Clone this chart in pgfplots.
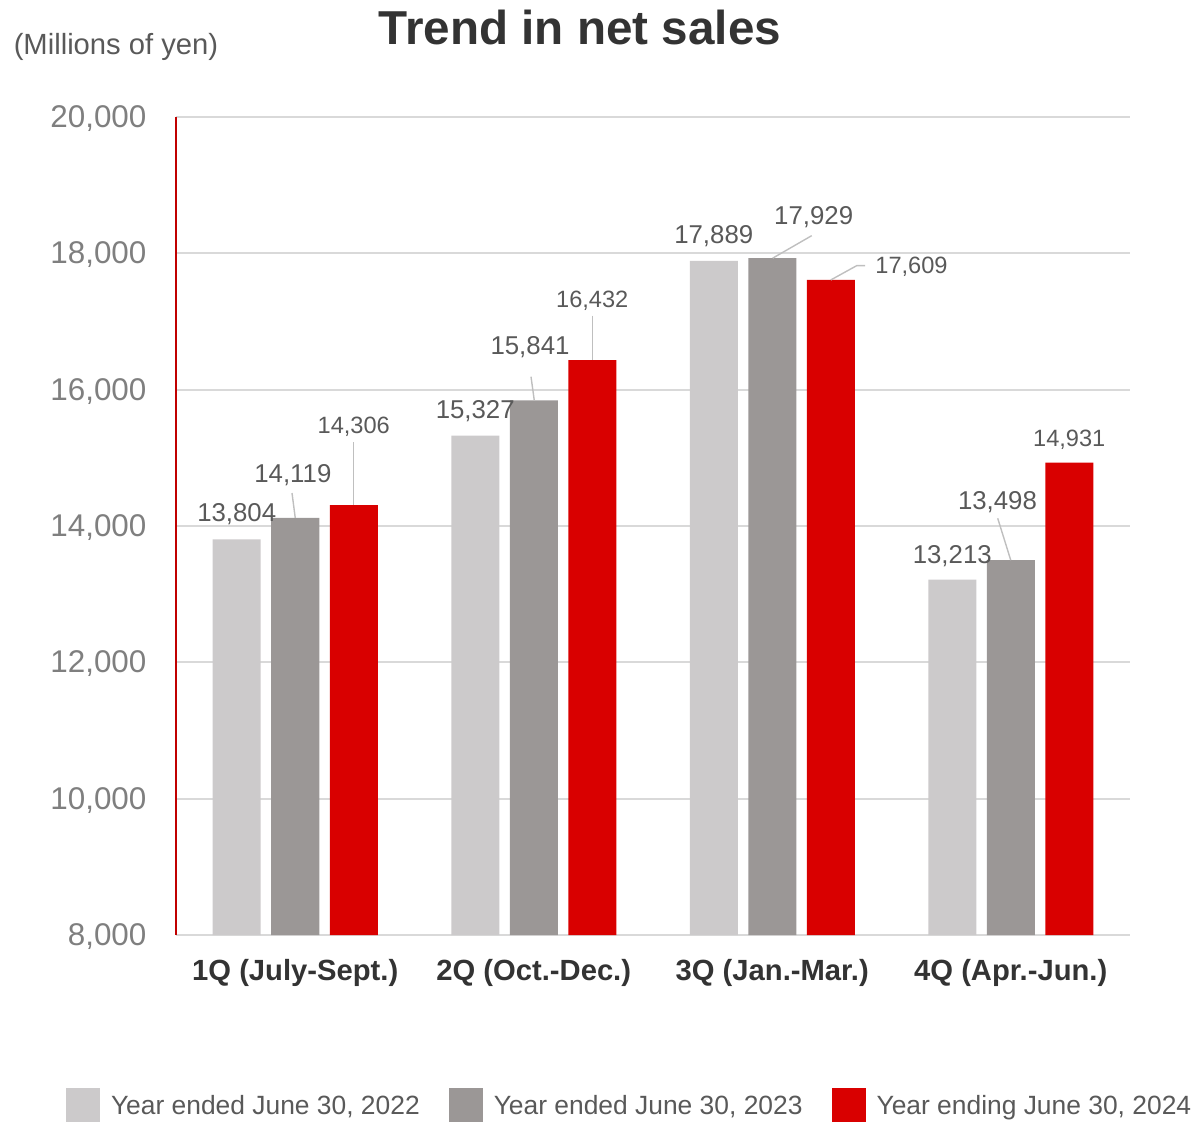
\documentclass[border=0pt]{standalone}
\usepackage{pgfplots}
\pgfplotsset{compat=1.18}
\usepackage{fontspec}
\setmainfont{Liberation Sans}
\definecolor{cA}{HTML}{CCCACB}
\definecolor{cB}{HTML}{9B9796}
\definecolor{cC}{HTML}{D90000}
\definecolor{axred}{HTML}{C00000}
\definecolor{gridc}{HTML}{D9D9D9}
\definecolor{ticktext}{HTML}{7F7F7F}
\definecolor{lbltext}{HTML}{595959}
\definecolor{leadc}{HTML}{BFBFBF}
\definecolor{titletext}{HTML}{333333}
\pgfplotsset{sqlegend/.style={legend image code/.code={\fill[##1] (0pt,-3.5pt) rectangle (17pt,13.5pt);}}}
\tikzset{
  lbl/.style={font=\fontsize{12.9}{15}\selectfont, text=lbltext, inner sep=0pt, anchor=base},
  lblr/.style={font=\fontsize{11.8}{14}\selectfont, text=lbltext, inner sep=0pt, anchor=base},
  leader/.style={draw=leadc, line width=0.7pt},
}
\begin{document}
\begin{tikzpicture}
\useasboundingbox (-88pt,-93.5pt) rectangle (510.5pt,467.5pt);
\begin{axis}[
  at={(0,0)}, anchor=south west,
  scale only axis, width=477pt, height=409pt,
  xmin=-0.5, xmax=3.5, ymin=8000, ymax=20000,
  ybar=5.25pt, bar width=24pt,
  xtick={0,1,2,3},
  xticklabels={1Q (July-Sept.),2Q (Oct.-Dec.),3Q (Jan.-Mar.),4Q (Apr.-Jun.)},
  ytick={8000,10000,12000,14000,16000,18000,20000},
  scaled y ticks=false,
  ymajorgrids, major grid style={draw=gridc, line width=0.9pt},
  axis x line=bottom, axis y line=left, axis line style={-},
  x axis line style={draw=gridc, line width=0.9pt},
  y axis line style={draw=axred, line width=1pt},
  major tick length=0pt, tick style={draw=none},
  /pgf/number format/.cd, fixed, precision=0, 1000 sep={,}, assume math mode=true, /pgfplots/.cd,
  yticklabel style={font=\fontsize{15.7}{18}\selectfont, text=ticktext, anchor=base east, inner sep=0pt, xshift=-14.6pt, yshift=-5.3pt},
  xticklabel style={font=\bfseries\fontsize{14.6}{17}\selectfont, text=titletext, anchor=base, inner sep=0pt, yshift=-22.75pt},
  legend columns=-1, legend cell align=left,
  legend style={at={(axis description cs:-0.1153,-0.2078)}, anchor=west, draw=none, fill=none,
    inner sep=0pt, outer sep=0pt, nodes={inner sep=0pt},
    font=\fontsize{13.2}{15}\selectfont, text=lbltext,
    cells={anchor=base west},
    /tikz/every odd column/.append style={column sep=5.5pt},
    /tikz/every even column/.append style={column sep=14.5pt}},
]
\addplot[fill=cA, draw=none, sqlegend] coordinates {(0,13804) (1,15327) (2,17889) (3,13213)};
\addplot[fill=cB, draw=none, sqlegend] coordinates {(0,14119) (1,15841) (2,17929) (3,13498)};
\addplot[fill=cC, draw=none, sqlegend] coordinates {(0,14306) (1,16432) (2,17609) (3,14931)};
\legend{Year ended June 30{,} 2022,Year ended June 30{,} 2023,Year ending June 30{,} 2024}
\draw[leader] (axis cs:-0.0136,14484) -- (axis cs:0,14119);
\draw[leader] (axis cs:0.2453,15228) -- (axis cs:0.2453,14306);
\draw[leader] (axis cs:0.9885,16190) -- (axis cs:1.0023,15841);
\draw[leader] (axis cs:1.2453,17085) -- (axis cs:1.2453,16432);
\draw[leader] (axis cs:2.1654,18259) -- (axis cs:2.0019,17929);
\draw[leader] (axis cs:2.3889,17819) -- (axis cs:2.3541,17819) -- (axis cs:2.2453,17609);
\draw[leader] (axis cs:2.9453,14113) -- (axis cs:3,13498);
\node[lbl] at (axis cs:-0.2453,14059) {13,804};
\node[lbl] at (axis cs:-0.01,14645) {14,119};
\node[lblr] at (axis cs:0.2453,15360) {14,306};
\node[lbl] at (axis cs:0.7547,15570) {15,327};
\node[lbl] at (axis cs:0.9843,16523) {15,841};
\node[lblr] at (axis cs:1.2453,17208) {16,432};
\node[lbl] at (axis cs:1.7547,18137) {17,889};
\node[lbl] at (axis cs:2.1738,18416) {17,929};
\node[lblr,anchor=base west] at (axis cs:2.4308,17707) {17,609};
\node[lbl] at (axis cs:2.7547,13453) {13,213};
\node[lbl] at (axis cs:2.9444,14245) {13,498};
\node[lblr] at (axis cs:3.2453,15163) {14,931};
\end{axis}
\node[font=\bfseries\fontsize{23.8}{28}\selectfont, text=titletext, anchor=base, inner sep=0pt] at (202pt,445pt) {Trend in net sales};
\node[font=\fontsize{14.6}{17}\selectfont, text=lbltext, anchor=base, inner sep=0pt] at (-30pt,440pt) {(Millions of yen)};
\end{tikzpicture}
\end{document}
